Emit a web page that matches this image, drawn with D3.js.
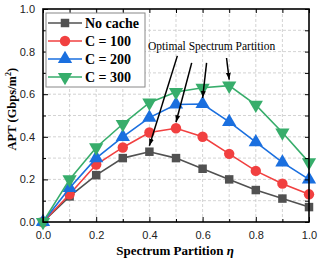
<!DOCTYPE html>
<html>
	<head>
		<style>
			body,
			html {
				margin: 0;
				padding: 0;
				background: #fff;
			}
			svg {
				display: block;
			}
		</style>
	</head>
	<body>
		<svg id="svg" width="319" height="264"></svg>

		<script src="https://d3js.org/d3.v7.min.js"></script>
		<script>
			// data
			const eta = [0, 0.1, 0.2, 0.3, 0.4, 0.5, 0.6, 0.7, 0.8, 0.9, 1.0];
			const noCache = [0, 0.12, 0.22, 0.3, 0.33, 0.3, 0.25, 0.2, 0.15, 0.11, 0.07];
			const c100 = [0, 0.13, 0.27, 0.35, 0.42, 0.44, 0.4, 0.32, 0.24, 0.18, 0.13];
			const c200 = [0, 0.16, 0.3, 0.4, 0.49, 0.552, 0.554, 0.47, 0.375, 0.28, 0.2];
			const c300 = [0, 0.2, 0.35, 0.46, 0.56, 0.61, 0.63, 0.64, 0.55, 0.42, 0.28];
			const seriesNames = ['No cache', 'C = 100', 'C = 200', 'C = 300'];
			const tickValues = [0, 0.2, 0.4, 0.6, 0.8, 1.0];
			// arrow tails, in data units (eta, APT)
			const arrowTails = [
				[0.505, 0.78],
				[0.559, 0.747],
				[0.615, 0.747],
				[0.69, 0.77],
			];

			const width = 319;
			const height = 264;
			const margin = { top: 9, right: 10, bottom: 42, left: 43 };

			const serif = '"Liberation Serif", "Times New Roman", serif';
			const sans = '"Liberation Sans", Arial, sans-serif';

			const series = [
				{ name: seriesNames[0], values: noCache, color: '#515151', symbol: d3.symbolSquare, size: 72, rot: 0 },
				{ name: seriesNames[1], values: c100, color: '#F14040', symbol: d3.symbolCircle, size: 85, rot: 0 },
				{ name: seriesNames[2], values: c200, color: '#1A6FDF', symbol: d3.symbolTriangle, size: 88, rot: 0 },
				{ name: seriesNames[3], values: c300, color: '#37AD6B', symbol: d3.symbolTriangle, size: 88, rot: 180 },
			];

			const xscale = d3
				.scaleLinear()
				.domain([0, 1])
				.range([margin.left, width - margin.right]);
			const yscale = d3
				.scaleLinear()
				.domain([0, 1])
				.range([height - margin.bottom, margin.top]);

			const svg = d3.select('#svg');
			const fine = d3.range(0, 1.0001, 0.1).map((v) => +v.toFixed(1));

			// dashed grid every 0.1
			const grid = svg.append('g').attr('stroke', '#c8c8c8').attr('stroke-dasharray', '3,2').attr('stroke-width', 0.8);
			grid
				.selectAll('.gx')
				.data(fine.slice(1, -1))
				.enter()
				.append('line')
				.attr('x1', (d) => xscale(d))
				.attr('x2', (d) => xscale(d))
				.attr('y1', yscale(0))
				.attr('y2', yscale(1));
			grid
				.selectAll('.gy')
				.data(fine.slice(1, -1))
				.enter()
				.append('line')
				.attr('y1', (d) => yscale(d))
				.attr('y2', (d) => yscale(d))
				.attr('x1', xscale(0))
				.attr('x2', xscale(1));

			// lines + markers
			const linegen = d3
				.line()
				.x((d, i) => xscale(eta[i]))
				.y((d) => yscale(d));

			series.forEach((s) => {
				svg
					.append('path')
					.attr('d', linegen(s.values))
					.attr('fill', 'none')
					.attr('stroke', s.color)
					.attr('stroke-width', 1.6);
				svg
					.append('g')
					.selectAll('path')
					.data(s.values)
					.enter()
					.append('path')
					.attr('d', d3.symbol().type(s.symbol).size(s.size))
					.attr('transform', (d, i) => `translate(${xscale(eta[i])},${yscale(d)}) rotate(${s.rot})`)
					.attr('fill', s.color);
			});

			// axes, ticks inward on all sides
			function styleAxis(g) {
				g.select('.domain').remove();
				g.selectAll('line').attr('stroke', '#000').attr('stroke-width', 1);
				g.selectAll('text').attr('font-family', sans).attr('font-size', 11).attr('fill', '#222');
			}
			const fmt = d3.format('.1f');
			svg
				.append('g')
				.attr('transform', `translate(0,${yscale(0)})`)
				.call(d3.axisBottom(xscale).tickValues(tickValues).tickFormat(fmt).tickSizeInner(-5).tickPadding(9))
				.call(styleAxis);
			svg
				.append('g')
				.attr('transform', `translate(0,${yscale(0)})`)
				.call(d3.axisBottom(xscale).tickValues(fine.filter((d, i) => i % 2)).tickFormat('').tickSizeInner(-3))
				.call(styleAxis);
			svg
				.append('g')
				.attr('transform', `translate(${xscale(0)},0)`)
				.call(d3.axisLeft(yscale).tickValues(tickValues).tickFormat(fmt).tickSizeInner(-5).tickPadding(8))
				.call(styleAxis);
			svg
				.append('g')
				.attr('transform', `translate(${xscale(0)},0)`)
				.call(d3.axisLeft(yscale).tickValues(fine.filter((d, i) => i % 2)).tickFormat('').tickSizeInner(-3))
				.call(styleAxis);
			svg
				.append('g')
				.attr('transform', `translate(0,${yscale(1)})`)
				.call(d3.axisTop(xscale).tickValues(fine).tickFormat('').tickSize(-4))
				.call(styleAxis);
			svg
				.append('g')
				.attr('transform', `translate(${xscale(1)},0)`)
				.call(d3.axisRight(yscale).tickValues(fine).tickFormat('').tickSize(-4))
				.call(styleAxis);

			// frame
			svg
				.append('rect')
				.attr('x', xscale(0))
				.attr('y', yscale(1))
				.attr('width', xscale(1) - xscale(0))
				.attr('height', yscale(0) - yscale(1))
				.attr('fill', 'none')
				.attr('stroke', '#000')
				.attr('stroke-width', 1.6);

			// axis titles
			svg
				.append('text')
				.attr('x', xscale(0.5) - 1)
				.attr('y', 255)
				.attr('text-anchor', 'middle')
				.attr('font-family', serif)
				.attr('font-weight', 'bold')
				.attr('font-size', 13)
				.text('Spectrum Partition ')
				.append('tspan')
				.attr('font-style', 'italic')
				.text('η');

			const ylab = svg
				.append('text')
				.attr('transform', `translate(16,${yscale(0.53)}) rotate(-90)`)
				.attr('text-anchor', 'middle')
				.attr('font-family', serif)
				.attr('font-weight', 'bold')
				.attr('font-size', 12.5);
			ylab.append('tspan').text('APT (Gbps/m');
			ylab.append('tspan').attr('font-size', 8).attr('dy', -5).text('2');
			ylab.append('tspan').attr('dy', 5).text(')');

			// legend
			const lg = svg.append('g').attr('transform', `translate(${xscale(0) + 3},${yscale(1) + 4})`);
			lg.append('rect')
				.attr('width', 99)
				.attr('height', 74)
				.attr('fill', '#fff')
				.attr('stroke', '#888')
				.attr('stroke-width', 1);
			series.forEach((s, i) => {
				const yy = 10 + i * 18;
				lg.append('line')
					.attr('x1', 2)
					.attr('x2', 36)
					.attr('y1', yy)
					.attr('y2', yy)
					.attr('stroke', s.color)
					.attr('stroke-width', 1.6);
				lg.append('path')
					.attr('d', d3.symbol().type(s.symbol).size(s.size))
					.attr('transform', `translate(19,${yy}) rotate(${s.rot})`)
					.attr('fill', s.color);
				lg.append('text')
					.attr('x', 39)
					.attr('y', yy + 4.5)
					.attr('font-family', serif)
					.attr('font-weight', 'bold')
					.attr('font-size', 14)
					.text(s.name);
			});

			// annotation
			svg
				.append('text')
				.attr('x', xscale(0.395))
				.attr('y', yscale(0.807))
				.attr('font-family', serif)
				.attr('font-size', 11.5)
				.text('Optimal Spectrum Partition');

			svg
				.append('defs')
				.append('marker')
				.attr('id', 'arrow')
				.attr('viewBox', '0 0 10 10')
				.attr('refX', 10)
				.attr('refY', 5)
				.attr('markerWidth', 7)
				.attr('markerHeight', 7)
				.attr('markerUnits', 'userSpaceOnUse')
				.attr('orient', 'auto')
				.append('path')
				.attr('d', 'M0,1.5 L10,5 L0,8.5 Z')
				.attr('fill', '#000');

			// each arrow points at the peak of one series
			series.forEach((s, i) => {
				const k = d3.maxIndex(s.values);
				const tx = xscale(eta[k]);
				const ty = yscale(s.values[k]) - 6;
				svg
					.append('line')
					.attr('x1', xscale(arrowTails[i][0]))
					.attr('y1', yscale(arrowTails[i][1]))
					.attr('x2', tx)
					.attr('y2', ty)
					.attr('stroke', '#000')
					.attr('stroke-width', 1.5)
					.attr('marker-end', 'url(#arrow)');
			});
		</script>
	</body>
</html>
